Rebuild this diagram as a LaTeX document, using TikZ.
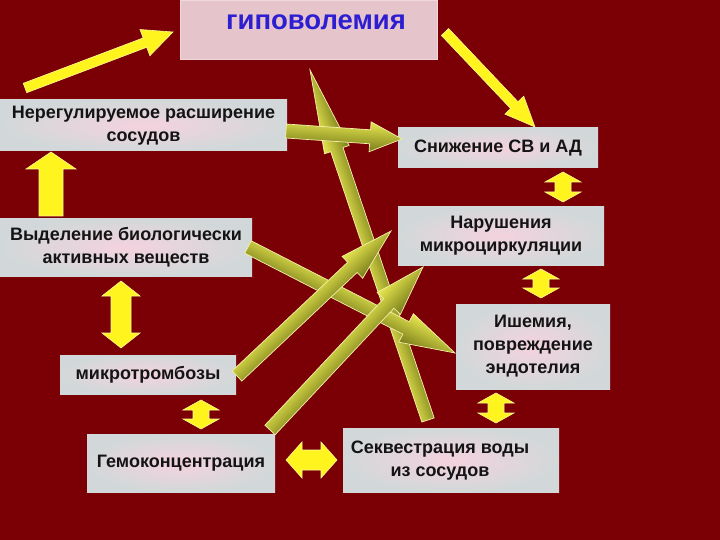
\documentclass[tikz,border=0pt]{standalone}
\usepackage{fontspec}
\setmainfont{Liberation Sans}
\usetikzlibrary{calc}
\definecolor{bg}{RGB}{122,0,6}
\definecolor{boxgray}{RGB}{210,216,217}
\definecolor{boxpink}{RGB}{244,210,222}
\definecolor{hypofill}{RGB}{230,196,204}
\definecolor{hypoedge}{RGB}{240,216,220}
\definecolor{hypoblue}{RGB}{46,30,210}
\definecolor{yel}{RGB}{255,244,30}
\definecolor{yeledge}{RGB}{255,250,150}
\definecolor{olivedark}{RGB}{120,124,26}
\definecolor{olivelight}{RGB}{232,232,80}
\definecolor{oliveedge}{RGB}{245,240,170}

% single block arrow between two named coordinates: #2 from, #3 to, #4 shaft half width, #5 head half width, #6 head length
\newcommand\blockarr[6][]{%
  \pgfpointdiff{\pgfpointanchor{#2}{center}}{\pgfpointanchor{#3}{center}}\pgfgetlastxy\bdx\bdy
  \pgfpointanchor{#2}{center}\pgfgetlastxy\bax\bay
  \pgfmathsetmacro\bang{atan2(\bdy,\bdx)}%
  \pgfmathsetmacro\blen{veclen(\bdx,\bdy)}%
  \pgfmathsetmacro\bhb{\blen-#6}%
  \begin{scope}[transform canvas={shift={(\bax,\bay)},rotate=\bang}]
    \path[#1] (0pt,#4pt) -- (\bhb pt,#4pt) -- (\bhb pt,#5pt) -- (\blen pt,0pt)
      -- (\bhb pt,-#5pt) -- (\bhb pt,-#4pt) -- (0pt,-#4pt) -- cycle;
  \end{scope}}
% double block arrow
\newcommand\dblarr[6][]{%
  \pgfpointdiff{\pgfpointanchor{#2}{center}}{\pgfpointanchor{#3}{center}}\pgfgetlastxy\bdx\bdy
  \pgfpointanchor{#2}{center}\pgfgetlastxy\bax\bay
  \pgfmathsetmacro\bang{atan2(\bdy,\bdx)}%
  \pgfmathsetmacro\blen{veclen(\bdx,\bdy)}%
  \pgfmathsetmacro\bhb{\blen-#6}%
  \begin{scope}[transform canvas={shift={(\bax,\bay)},rotate=\bang}]
    \path[#1] (0pt,0pt) -- (#6pt,#5pt) -- (#6pt,#4pt) -- (\bhb pt,#4pt) -- (\bhb pt,#5pt) -- (\blen pt,0pt)
      -- (\bhb pt,-#5pt) -- (\bhb pt,-#4pt) -- (#6pt,-#4pt) -- (#6pt,-#5pt) -- cycle;
  \end{scope}}

\begin{document}
\begin{tikzpicture}[x=1pt,y=-1pt,
  box/.style={rectangle, inner sep=0pt, outer color=boxgray, inner color=boxpink,
    align=center, font=\fontsize{18}{23}\selectfont\bfseries, text=black!92},
  txt/.style={inner sep=0pt, align=center, font=\fontsize{18}{23}\selectfont\bfseries, text=black!92},
  yarrow/.style={fill=yel, draw=yeledge, line width=0.6pt},
  oarrow/.style={top color=olivelight, bottom color=olivedark, draw=oliveedge, line width=0.7pt}]
\fill[bg] (0,0) rectangle (720,540);
\useasboundingbox (0,0) rectangle (720,540);

% boxes
\node[rectangle, fill=hypofill, draw=hypoedge, line width=1.2pt, minimum width=257pt, minimum height=59pt] (hypo) at (309,30) {};
\node[inner sep=0pt, font=\fontsize{27.5}{30}\selectfont\bfseries, text=hypoblue] (hypoT) at (316,22) {гиповолемия};
\node[box, minimum width=287pt, minimum height=51pt] (nereg) at (143.5,125.5) {Нерегулируемое расширение\\сосудов};
\node[box, minimum width=200pt, minimum height=40pt] (snizh) at (498,148) {Снижение СВ и АД};
\node[box, minimum width=252pt, minimum height=57pt] (vydel) at (126,247.5) {Выделение биологически\\активных веществ};
\node[box, minimum width=206pt, minimum height=58pt] (narush) at (501,236) {Нарушения\\микроциркуляции};
\node[box, minimum width=154pt, minimum height=85pt] (ishem) at (533,346.5) {Ишемия,\\повреждение\\эндотелия};
\node[box, minimum width=176pt, minimum height=39pt] (mikro) at (148,374.5) {микротромбозы};
\node[box, minimum width=188pt, minimum height=58pt] (gemo) at (181,463) {Гемоконцентрация};
\node[box, minimum width=216pt, minimum height=64pt] (sekv) at (451,460) {};
\node[txt] (sekvT) at (440,461) {Секвестрация воды\\из сосудов};

% arrow end points
\coordinate (y1s) at (25,88);   \coordinate (y1e) at (173,32);
\coordinate (y2s) at (445,32);  \coordinate (y2e) at (535,127);
\coordinate (ups) at (51,216);  \coordinate (upe) at (51,152);
\coordinate (d1a) at (563,172); \coordinate (d1b) at (563,202);
\coordinate (d2a) at (541,269); \coordinate (d2b) at (541,298);
\coordinate (d3a) at (121,281); \coordinate (d3b) at (121,348);
\coordinate (d4a) at (201,400); \coordinate (d4b) at (201,429);
\coordinate (d5a) at (496,393); \coordinate (d5b) at (496,423);
\coordinate (d6a) at (286,460); \coordinate (d6b) at (337,460);
\coordinate (oas) at (286,131); \coordinate (oae) at (402,139);
\coordinate (obs) at (428,420); \coordinate (obe) at (310,70);
\coordinate (ocs) at (248,247); \coordinate (oce) at (455,353);
\coordinate (ods) at (237,376); \coordinate (ode) at (391,231);
\coordinate (oes) at (270,430); \coordinate (oee) at (423,267);

% yellow arrows
\blockarr[yarrow]{y1s}{y1e}{5}{14}{30}
\blockarr[yarrow]{y2s}{y2e}{5}{13}{30}
\blockarr[yarrow]{ups}{upe}{12}{25}{17}
\dblarr[yarrow]{d1a}{d1b}{8}{18}{10}
\dblarr[yarrow]{d2a}{d2b}{8}{18}{10}
\dblarr[yarrow]{d3a}{d3b}{10}{19}{15}
\dblarr[yarrow]{d4a}{d4b}{8}{18}{10}
\dblarr[yarrow]{d5a}{d5b}{8}{18}{10}
\dblarr[yarrow]{d6a}{d6b}{10}{18}{16}

% olive arrows
\blockarr[oarrow]{obs}{obe}{6.5}{13}{84}
\blockarr[oarrow]{ocs}{oce}{7}{16}{55}
\blockarr[oarrow]{ods}{ode}{7}{15}{53}
\blockarr[oarrow]{oes}{oee}{7}{16}{50}
\blockarr[oarrow]{oas}{oae}{7}{15}{32}
\end{tikzpicture}
\end{document}
